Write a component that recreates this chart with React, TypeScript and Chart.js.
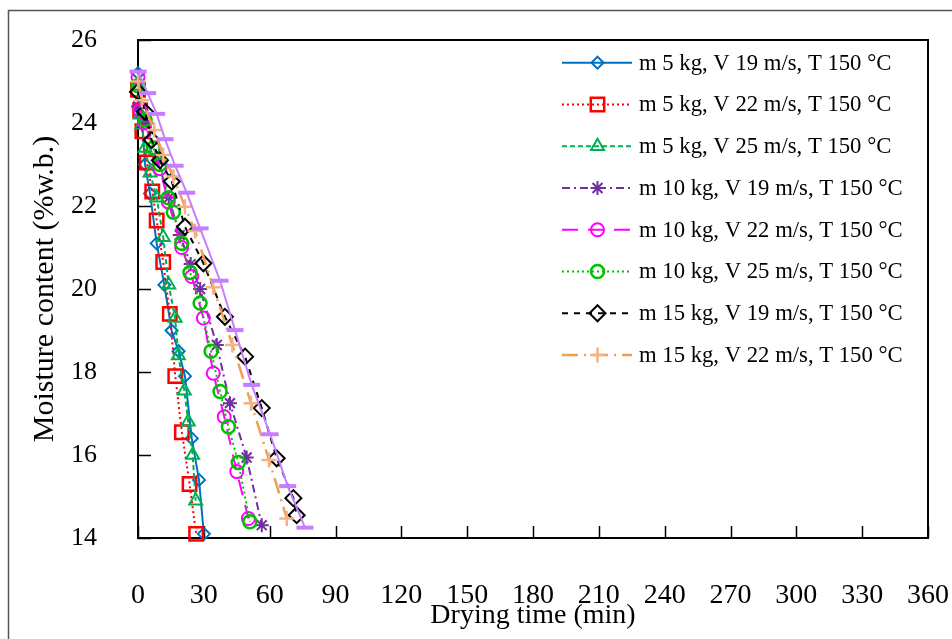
import React, { useEffect, useRef } from 'react';
import { Chart, registerables } from 'chart.js';
import { drawPoint } from 'chart.js/helpers';

Chart.register(...registerables);

// ---------- data (drying time in min, moisture content in %w.b.) ----------
const seriesLabels = [
  'm 5 kg, V 19 m/s, T 150 °C',
  'm 5 kg, V 22 m/s, T 150 °C',
  'm 5 kg, V 25 m/s, T 150 °C',
  'm 10 kg, V 19 m/s, T 150 °C',
  'm 10 kg, V 22 m/s, T 150 °C',
  'm 10 kg, V 25 m/s, T 150 °C',
  'm 15 kg, V 19 m/s, T 150 °C',
  'm 15 kg, V 22 m/s, T 150 °C',
  'm 15 kg, V 25 m/s, T 150 °C',
];

const timeM5V19 = [0, 1.5, 3.2, 5.5, 8.5, 12, 15.3, 18.5, 21.4, 24.5, 27.8, 30];
const mcM5V19 = [25.2, 24.3, 23.0, 22.3, 21.1, 20.1, 19.0, 18.5, 17.9, 16.4, 15.4, 14.1];

const timeM5V22 = [0, 1, 2, 4, 6.5, 8.5, 11.5, 14.5, 17, 20, 23.5, 26.5];
const mcM5V22 = [24.8, 24.3, 23.8, 23.05, 22.35, 21.65, 20.65, 19.4, 17.9, 16.55, 15.3, 14.1];

const timeM5V25 = [0, 1, 1.7, 3.2, 5.5, 8.5, 11.5, 14, 16.9, 18.4, 21.1, 22.9, 24.9, 26.3];
const mcM5V25 = [24.9, 24.2, 23.95, 23.4, 22.8, 22.2, 21.25, 20.1, 19.3, 18.4, 17.55, 16.8, 16.0, 14.9];

const timeM10V19 = [0, 4, 9, 14, 19, 24, 28.3, 35.9, 41.9, 49.5, 56.4];
const mcM10V19 = [24.4, 24.0, 23.1, 22.2, 21.3, 20.6, 20.0, 18.65, 17.25, 15.94, 14.31];

const timeM10V22 = [0, 1, 3, 7, 10, 13.8, 19.9, 24.5, 29.8, 34.3, 39.3, 45, 50.3];
const mcM10V22 = [25.1, 24.3, 24.0, 23.4, 22.9, 22.1, 21.0, 20.3, 19.3, 17.97, 16.92, 15.6, 14.47];

const timeM10V25 = [0, 3.2, 7, 10, 13.8, 16.1, 19.9, 23.7, 28.3, 33.3, 37.4, 41.2, 45.7, 51];
const mcM10V25 = [24.9, 24.07, 23.4, 23.0, 22.2, 21.85, 21.1, 20.4, 19.66, 18.5, 17.53, 16.68, 15.82, 14.39];

const timeM15V19 = [0, 3.2, 6.2, 10, 15.4, 21.4, 29.8, 39.6, 48.8, 56.4, 63.2, 70.8, 72.3];
const mcM15V19 = [24.75, 24.27, 23.59, 23.1, 22.59, 21.5, 20.62, 19.33, 18.37, 17.13, 15.92, 14.96, 14.55];

const timeM15V22 = [0, 1.7, 7.4, 11.5, 16.1, 21.4, 26, 34.3, 43, 51.5, 59.7, 67.8];
const mcM15V22 = [25.0, 24.55, 23.83, 23.23, 22.71, 21.98, 21.4, 20.04, 18.65, 17.25, 15.88, 14.47];

const timeM15V25 = [0, 4.4, 8.5, 12.3, 16.9, 22.2, 28.3, 37.4, 44.2, 51.8, 60.2, 68.2, 76.1];
const mcM15V25 = [25.24, 24.72, 24.22, 23.61, 22.97, 22.32, 21.46, 20.2, 19.01, 17.69, 16.5, 15.25, 14.25];

const seriesTimes = [timeM5V19, timeM5V22, timeM5V25, timeM10V19, timeM10V22, timeM10V25, timeM15V19, timeM15V22, timeM15V25];
const seriesMC = [mcM5V19, mcM5V22, mcM5V25, mcM10V19, mcM10V22, mcM10V25, mcM15V19, mcM15V22, mcM15V25];
const inLegend = [true, true, true, true, true, true, true, true, false];

const xMin = 0, xMax = 360, xStep = 30;
const yMin = 14, yMax = 26, yStep = 2;

// ---------- styles ----------
const styles = [
  { color: '#0070c0', pointColor: '#0070c0', width: 2, dash: [], point: 'rectRot', r: 6, pw: 2 },
  { color: '#ff0000', pointColor: '#ff0000', width: 2, dash: [2, 3], point: 'rect', r: 9.5, pw: 2.5 },
  { color: '#00b050', pointColor: '#00b050', width: 2, dash: [5, 3], point: 'triangle', r: 7.5, pw: 2 },
  { color: '#7030a0', pointColor: '#7030a0', width: 2, dash: [8, 4, 2, 4], point: 'star', r: 7, pw: 2 },
  { color: '#ff00ff', pointColor: '#ff00ff', width: 2, dash: [16, 10], point: 'circle', r: 6.5, pw: 2 },
  { color: '#00c000', pointColor: '#00c000', width: 2, dash: [2, 3], point: 'circle', r: 6.5, pw: 2.5 },
  { color: '#000000', pointColor: '#000000', width: 2, dash: [6, 6], point: 'rectRot', r: 8, pw: 2 },
  { color: '#f0a050', pointColor: '#f4b183', width: 2.5, dash: [16, 6, 2, 6], point: 'cross', r: 7.5, pw: 2.5 },
  { color: '#c77dff', pointColor: '#c77dff', width: 2, dash: [], point: 'line', r: 8.5, pw: 4 },
];

const FONT = '"Liberation Serif", "Times New Roman", serif';

const resetPadding = (scale: any) => {
  scale.paddingTop = 0;
  scale.paddingBottom = 0;
  scale.paddingLeft = 0;
  scale.paddingRight = 0;
};

const framePlugin = {
  id: 'frameAndLegend',
  beforeDraw(chart: any) {
    const ctx = chart.ctx;
    ctx.save();
    ctx.strokeStyle = '#555';
    ctx.lineWidth = 1.5;
    ctx.beginPath();
    ctx.moveTo(8.5, 700);
    ctx.lineTo(8.5, 10.5);
    ctx.lineTo(1000, 10.5);
    ctx.stroke();
    ctx.restore();
  },
  beforeDatasetsDraw(chart: any) {
    const { ctx, chartArea: a, scales } = chart;
    ctx.save();
    ctx.strokeStyle = '#000';
    ctx.lineWidth = 2;
    ctx.beginPath();
    ctx.moveTo(a.left, a.top);
    ctx.lineTo(a.right, a.top);
    ctx.lineTo(a.right, a.bottom);
    ctx.stroke();
    // inward tick marks
    ctx.lineWidth = 1.5;
    scales.y.ticks.forEach((t: any) => {
      const y = Math.round(scales.y.getPixelForValue(t.value)) + 0.5;
      ctx.beginPath();
      ctx.moveTo(a.left, y);
      ctx.lineTo(a.left + 13, y);
      ctx.stroke();
    });
    scales.x.ticks.forEach((t: any) => {
      const x = Math.round(scales.x.getPixelForValue(t.value)) + 0.5;
      ctx.beginPath();
      ctx.moveTo(x, a.bottom);
      ctx.lineTo(x, a.bottom - 12);
      ctx.stroke();
    });
    ctx.restore();
  },
  afterDraw(chart: any) {
    const ctx = chart.ctx;
    let row = 0;
    chart.data.datasets.forEach((ds: any, i: number) => {
      if (!inLegend[i]) return;
      const y = 62.7 + row * 41.76;
      row++;
      ctx.save();
      ctx.strokeStyle = ds.borderColor;
      ctx.lineWidth = ds.borderWidth;
      ctx.setLineDash(ds.borderDash || []);
      ctx.beginPath();
      ctx.moveTo(562, y);
      ctx.lineTo(632, y);
      ctx.stroke();
      ctx.setLineDash([]);
      ctx.strokeStyle = ds.pointBorderColor;
      ctx.fillStyle = 'rgba(0,0,0,0)';
      ctx.lineWidth = ds.pointBorderWidth;
      drawPoint(ctx, { pointStyle: ds.pointStyle, rotation: 0, radius: ds.pointRadius, borderWidth: ds.pointBorderWidth } as any, 597.5, y);
      ctx.fillStyle = '#000';
      ctx.font = '22.7px ' + FONT;
      ctx.textBaseline = 'middle';
      ctx.textAlign = 'left';
      ctx.fillText(ds.label, 639, y + 1);
      ctx.restore();
    });
  },
};

export default function App() {
  const ref = useRef<HTMLCanvasElement | null>(null);

  useEffect(() => {
    document.body.style.margin = '0';
    document.body.style.overflow = 'hidden';
    const canvas = ref.current;
    if (!canvas) return;
    const datasets = seriesLabels.map((label, i) => {
      const s = styles[i];
      return {
        label,
        data: seriesTimes[i].map((t, k) => ({ x: t, y: seriesMC[i][k] })),
        borderColor: s.color,
        borderWidth: s.width,
        borderDash: s.dash,
        pointStyle: s.point,
        pointRadius: s.r,
        pointBorderWidth: s.pw,
        pointBorderColor: s.pointColor,
        pointBackgroundColor: 'rgba(0,0,0,0)',
        backgroundColor: 'rgba(0,0,0,0)',
        fill: false,
        tension: 0,
        clip: false as any,
        order: seriesLabels.length - i,
      };
    });
    const chart = new Chart(canvas, {
      type: 'line',
      data: { datasets } as any,
      options: {
        responsive: false,
        animation: false,
        devicePixelRatio: 1,
        layout: { autoPadding: false, padding: { left: 0, top: 40, right: 24, bottom: 0 } },
        plugins: { legend: { display: false }, tooltip: { enabled: false } },
        scales: {
          x: {
            type: 'linear',
            min: xMin,
            max: xMax,
            afterFit: (scale: any) => { scale.height = 101; resetPadding(scale); },
            ticks: {
              stepSize: xStep,
              autoSkip: false,
              maxRotation: 0,
              padding: 41,
              color: '#000',
              font: { family: FONT, size: 28 },
            },
            grid: { drawOnChartArea: false, drawTicks: false },
            border: { display: true, color: '#000', width: 2 },
            title: {
              display: true,
              text: 'Drying time (min)',
              color: '#000',
              font: { family: FONT, size: 28 },
              padding: { top: 0, bottom: 7 },
            },
          },
          y: {
            type: 'linear',
            min: yMin,
            max: yMax,
            afterFit: (scale: any) => { scale.width = 138; resetPadding(scale); },
            ticks: {
              stepSize: yStep,
              autoSkip: false,
              padding: 41,
              color: '#000',
              font: { family: FONT, size: 26 },
            },
            grid: { drawOnChartArea: false, drawTicks: false },
            border: { display: true, color: '#000', width: 2 },
            title: {
              display: true,
              text: 'Moisture content (%w.b.)',
              color: '#000',
              font: { family: FONT, size: 30 },
              padding: { top: 27, bottom: 0 },
            },
          },
        },
      } as any,
      plugins: [framePlugin],
    });
    return () => chart.destroy();
  }, []);

  return <canvas ref={ref} width={952} height={639} style={{ display: 'block' }} />;
}
